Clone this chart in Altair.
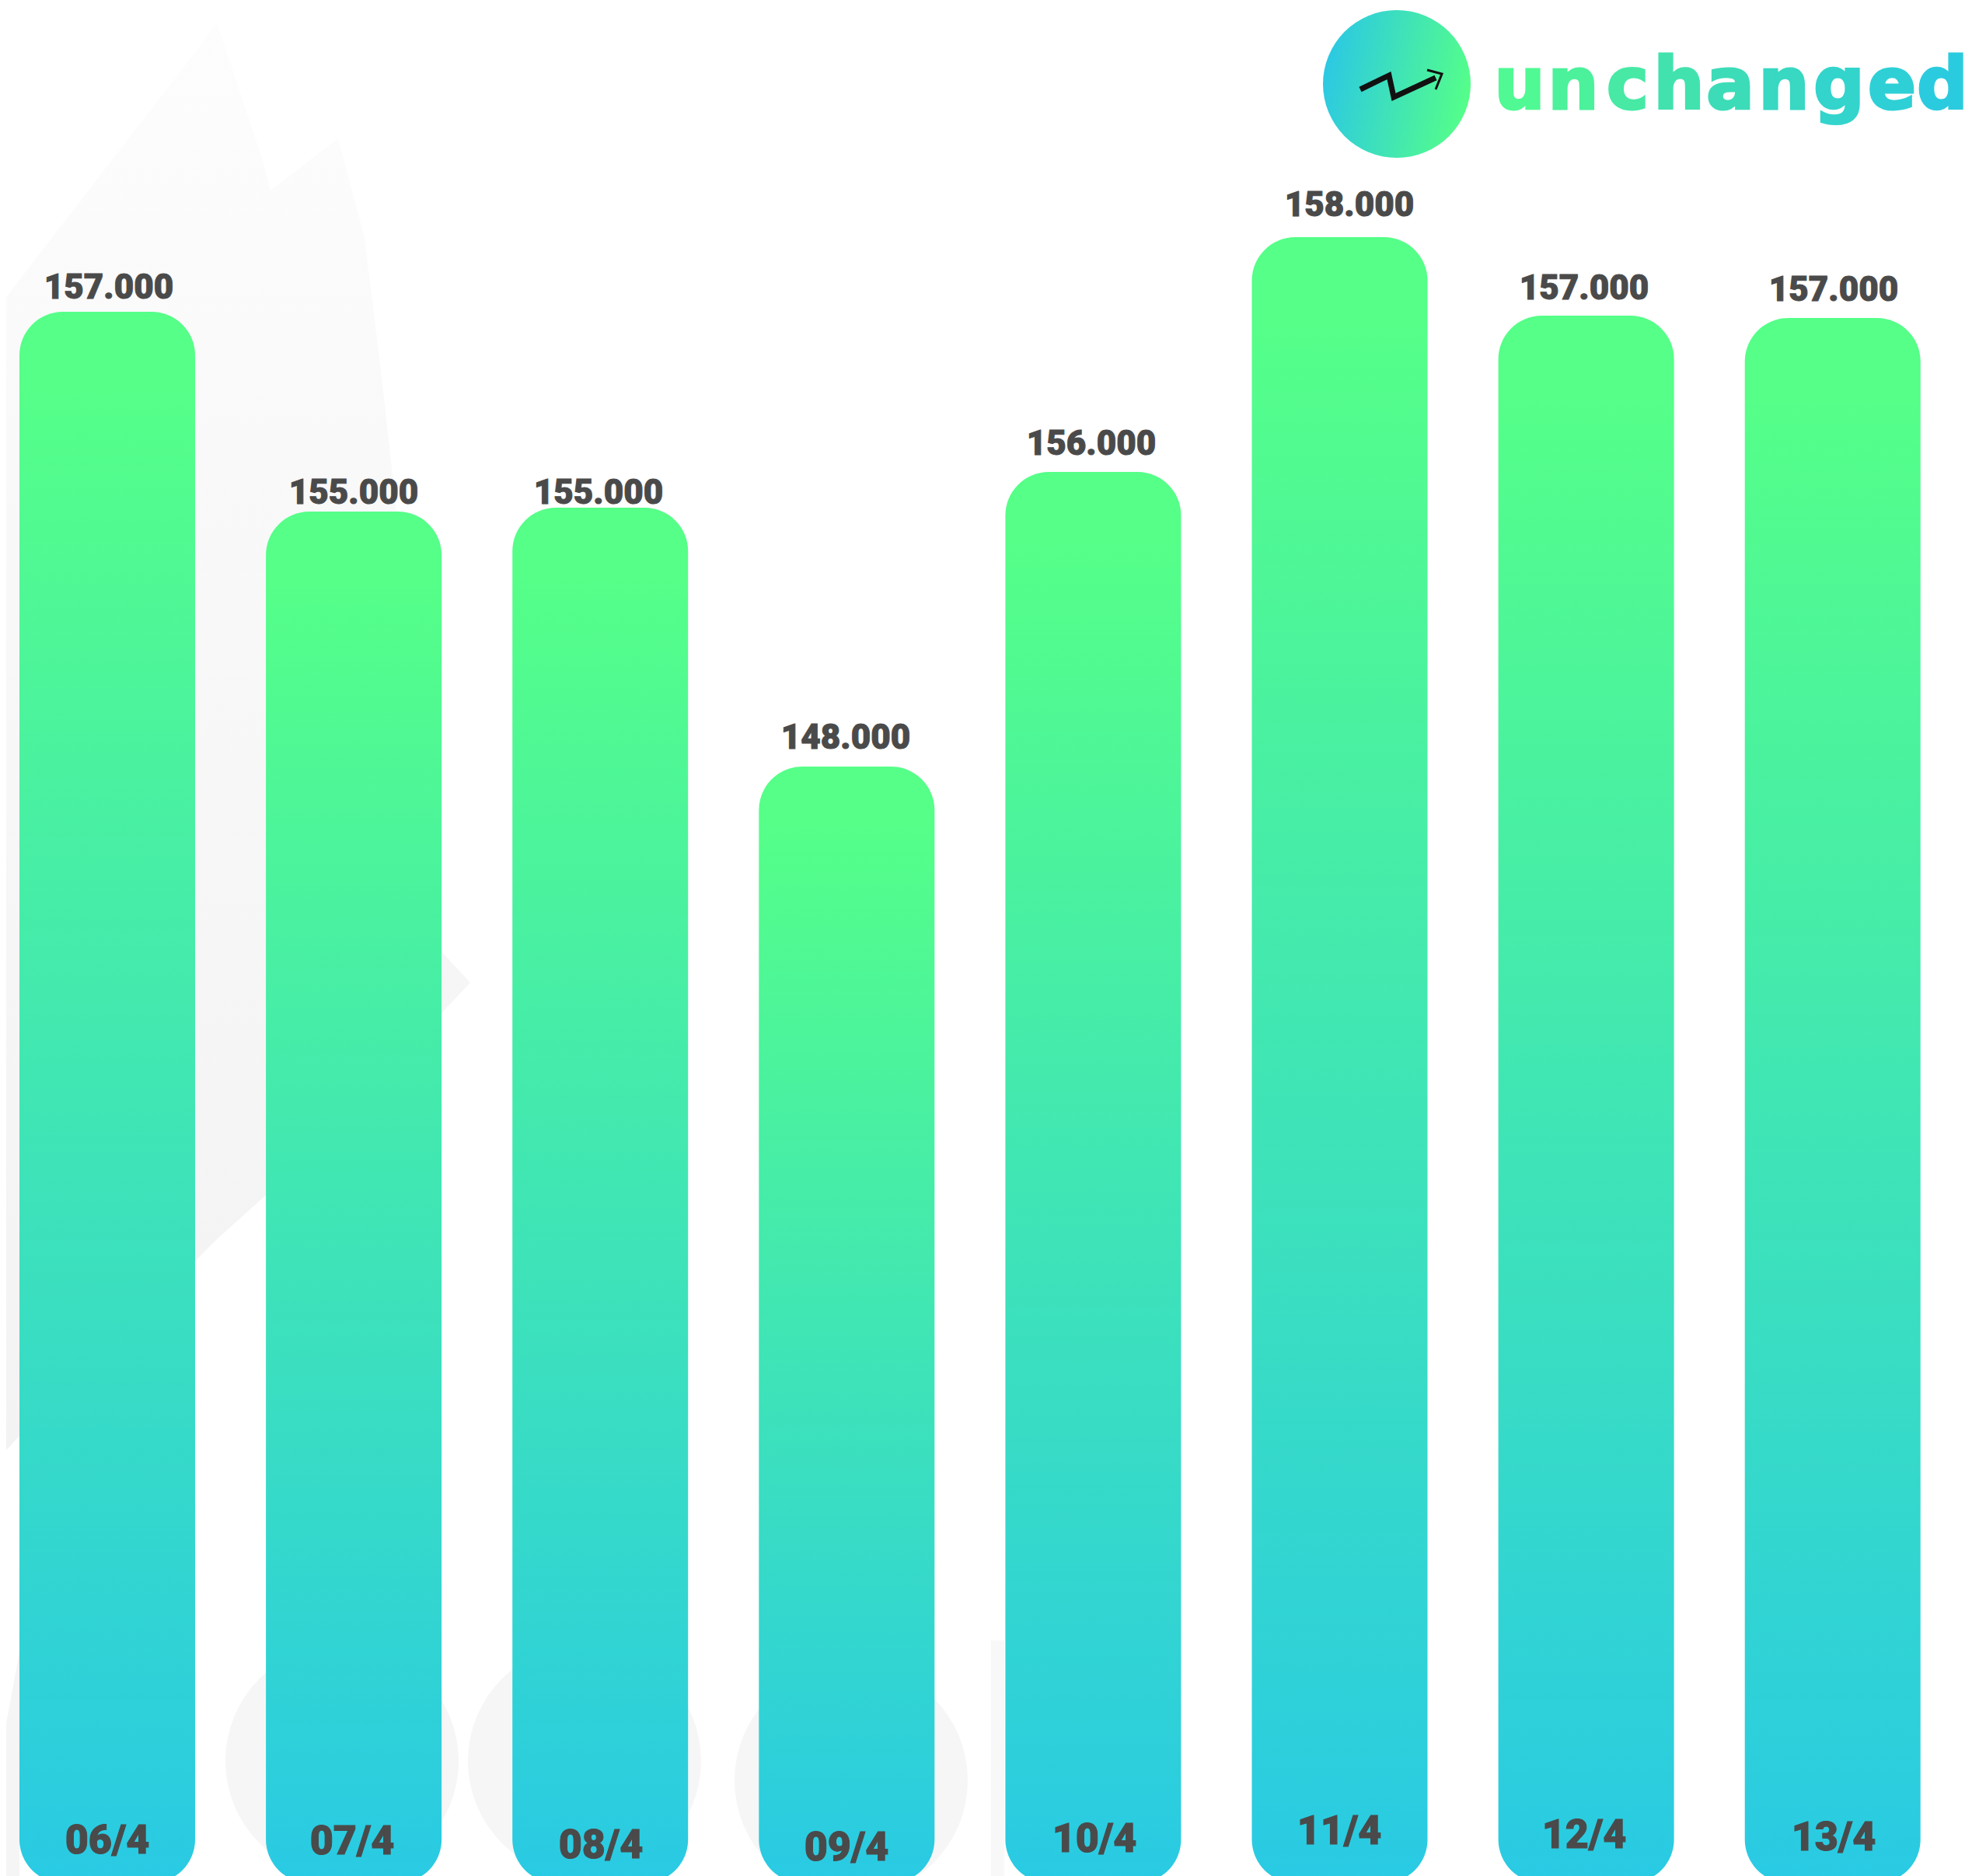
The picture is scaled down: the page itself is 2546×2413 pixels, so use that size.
import altair as alt
import pandas as pd

# --- values ---
dates = ["06/4", "07/4", "08/4", "09/4", "10/4", "11/4", "12/4", "13/4"]
labels = ["157.000", "155.000", "155.000", "148.000", "156.000", "158.000", "157.000", "157.000"]
# bar heights as drawn (the picture's bars are not strictly proportional to the printed values)
bar_levels = [156590, 152816, 152890, 148000, 153565, 158000, 156517, 156473]
label_levels = [157030, 153154, 153154, 148528, 154079, 158587, 157016, 156986]
date_levels = [127711, 127696, 127623, 127579, 127741, 127888, 127815, 127771]
label_x = [140, 455, 770, 1088, 1404, 1736, 2038, 2359]
date_x = [138, 453, 773, 1089, 1408, 1723, 2038, 2359]
BASE = 126914

# decorative watermark + logo, traced in page units
wm_x = [0, 25, 252, 279, 339, 348, 435, 469, 491, 504, 569, 605]
wm_top = [393, 360, 66, 29, 210, 245, 178, 306, 485, 602, 1225, 1264]
wm_bot = [1874, 1847, 1621, 1594, 1540, 1530, 1440, 1405, 1382, 1369, 1302, 1264]
wm2_x = [0, 25]
wm2_top = [2260, 2125]
wm2_bot = [2413, 2413]
wm3_x = [1275, 1292]
wm3_top = [2110, 2110]
wm3_bot = [2413, 2413]
disc_x = [440, 752, 1095]
disc_y = [2265, 2265, 2290]
arrow_x = [1750, 1787, 1793, 1847]
arrow_y = [115, 97, 125, 100]
head_x = [1836, 1855, 1847]
head_y = [90, 95, 115]
word_letters = list("unchanged")
word_x = [1955, 2024, 2094, 2160, 2226, 2295, 2366, 2434, 2499]
word_colors = ["#50F994", "#4CF19B", "#47E9A5", "#42E2AE", "#3DDCB8", "#38D8C2", "#33D4CC", "#2ED0D6", "#2BCBDF"]

W, H = 2530, 2405
def px(field="x:Q"):
    return alt.X(field, axis=None, scale=alt.Scale(domain=[8, 8 + W], range=[0, W], nice=False, zero=False))
def page_y(field):
    return alt.Y(field, axis=None, scale=alt.Scale(domain=[8, 8 + H], range=[0, H], nice=False, zero=False))

val_scale = alt.Scale(domain=[127046, 162361], range=[H, 0], nice=False, zero=False)
band_scale = alt.Scale(type="band", domain=dates, paddingInner=0.2873, paddingOuter=0.1329, align=0.2017, round=False)

df = pd.DataFrame({"date": dates, "label": labels, "level": bar_levels, "label_level": label_levels,
                   "date_level": date_levels, "label_x": label_x, "date_x": date_x,
                   "base": [BASE] * len(dates)})

grey = alt.Gradient(gradient="linear", x1=0, x2=0, y1=0, y2=1,
                    stops=[alt.GradientStop(color="#FDFDFD", offset=0),
                           alt.GradientStop(color="#F9F9F9", offset=0.3),
                           alt.GradientStop(color="#F3F3F3", offset=1)])
wm1 = alt.Chart(pd.DataFrame({"x": wm_x, "t": wm_top, "b": wm_bot})).mark_area(fill=grey, line=False).encode(
    x=px(), y=page_y("t:Q"), y2="b:Q")
wm2 = alt.Chart(pd.DataFrame({"x": wm2_x, "t": wm2_top, "b": wm2_bot})).mark_area(color="#F5F5F5").encode(
    x=px(), y=page_y("t:Q"), y2="b:Q")
wm3 = alt.Chart(pd.DataFrame({"x": wm3_x, "t": wm3_top, "b": wm3_bot})).mark_area(color="#F8F8F8").encode(
    x=px(), y=page_y("t:Q"), y2="b:Q")
discs = alt.Chart(pd.DataFrame({"x": disc_x, "y": disc_y})).mark_circle(
    color="#F6F6F6", opacity=1, size=90000).encode(x=px(), y=page_y("y:Q"))

bar_grad = alt.Gradient(gradient="linear", x1=0, x2=0, y1=0, y2=1,
                        stops=[alt.GradientStop(color="#55FF88", offset=0),
                               alt.GradientStop(color="#55FF88", offset=0.05),
                               alt.GradientStop(color="#29CAE4", offset=1)])
bars = alt.Chart(df).mark_bar(fill=bar_grad, cornerRadius=56).encode(
    x=alt.X("date:N", axis=None, scale=band_scale, sort=dates),
    y=alt.Y("level:Q", axis=None, scale=val_scale),
    y2="base:Q")

font = "Roboto"
top_text = alt.Chart(df).mark_text(font=font, fontSize=44, fontWeight=900, color="#4A4A4A",
                                   stroke="#4A4A4A", strokeWidth=1,
                                   align="center", baseline="middle").encode(
    x=px("label_x:Q"),
    y=alt.Y("label_level:Q", axis=None, scale=val_scale),
    text="label:N")
date_text = alt.Chart(df).mark_text(font=font, fontSize=52, fontWeight=900, color="#4A4A4A",
                                    stroke="#4A4A4A", strokeWidth=1,
                                    align="center", baseline="middle").encode(
    x=px("date_x:Q"),
    y=alt.Y("date_level:Q", axis=None, scale=val_scale),
    text="date:N")

logo_grad = alt.Gradient(gradient="linear", x1=0, x2=1, y1=0.4, y2=0.6,
                         stops=[alt.GradientStop(color="#2BC8E4", offset=0),
                                alt.GradientStop(color="#55FF88", offset=1)])
logo = alt.Chart(pd.DataFrame({"x": [1797], "y": [108]})).mark_circle(
    fill=logo_grad, opacity=1, size=36100).encode(x=px(), y=page_y("y:Q"))
arrow = alt.Chart(pd.DataFrame({"x": arrow_x, "y": arrow_y, "o": range(4)})).mark_line(
    color="#111111", strokeWidth=7).encode(x=px(), y=page_y("y:Q"), order="o:Q")
head = alt.Chart(pd.DataFrame({"x": head_x, "y": head_y, "o": range(3)})).mark_line(
    color="#111111", strokeWidth=3).encode(x=px(), y=page_y("y:Q"), order="o:Q")
word = alt.Chart(pd.DataFrame({"x": word_x, "y": [140] * 9, "t": word_letters, "c": word_colors})).mark_text(
    font="DejaVu Sans", fontSize=92, fontWeight="bold", strokeWidth=3, align="center", baseline="alphabetic").encode(
    x=px(), y=page_y("y:Q"), text="t:N", color=alt.Color("c:N", scale=None),
    stroke=alt.Stroke("c:N", scale=None))

chart = alt.layer(wm1, wm2, wm3, discs, bars, top_text, date_text, logo, arrow, head, word).resolve_scale(
    x="independent", y="independent"
).properties(width=W, height=H, padding=0, autosize=alt.AutoSizeParams(type="none"),
             background="#FFFFFF").configure_view(stroke=None)

chart.save("out.html", embed_options={"renderer": "svg", "actions": False})
